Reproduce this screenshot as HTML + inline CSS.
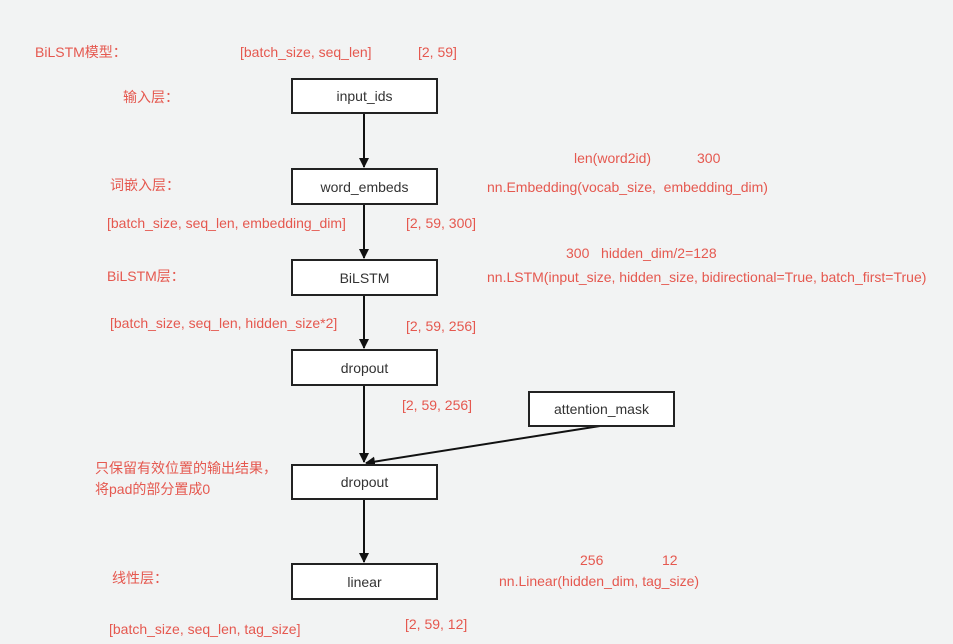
<!DOCTYPE html>
<html><head><meta charset="utf-8"><style>
body{margin:0;width:953px;height:644px;background:#f2f3f3;position:relative;overflow:hidden;font-family:"Liberation Sans","Noto Sans CJK SC",sans-serif}
.b{position:absolute;background:#fff;border:2px solid #222;box-sizing:border-box;display:flex;align-items:center;justify-content:center;font-size:14px;color:#333}
.r{position:absolute;color:#e5584f;font-size:14px;white-space:nowrap;line-height:16px}
svg{position:absolute;left:0;top:0}
</style></head><body>
<svg width="953" height="644">
<defs><marker id="a" markerWidth="10" markerHeight="10" refX="9" refY="5" orient="auto" markerUnits="userSpaceOnUse"><path d="M0,0 L10,5 L0,10 z" fill="#111"/></marker></defs>
<g stroke="#111" stroke-width="2" fill="none">
<line x1="364" y1="113" x2="364" y2="167" marker-end="url(#a)"/>
<line x1="364" y1="204" x2="364" y2="258" marker-end="url(#a)"/>
<line x1="364" y1="295" x2="364" y2="348" marker-end="url(#a)"/>
<line x1="364" y1="385" x2="364" y2="462" marker-end="url(#a)"/>
<line x1="600" y1="426" x2="366" y2="463" marker-end="url(#a)"/>
<line x1="364" y1="499" x2="364" y2="562" marker-end="url(#a)"/>
</g></svg>
<div class="b" style="left:291px;top:78px;width:147px;height:36px">input_ids</div>
<div class="b" style="left:291px;top:168px;width:147px;height:37px">word_embeds</div>
<div class="b" style="left:291px;top:259px;width:147px;height:37px">BiLSTM</div>
<div class="b" style="left:291px;top:349px;width:147px;height:37px">dropout</div>
<div class="b" style="left:291px;top:464px;width:147px;height:36px">dropout</div>
<div class="b" style="left:291px;top:563px;width:147px;height:37px">linear</div>
<div class="b" style="left:528px;top:391px;width:147px;height:36px">attention_mask</div>

<div class="r" style="left:35px;top:44px">BiLSTM模型：</div>
<div class="r" style="left:240px;top:44px">[batch_size, seq_len]</div>
<div class="r" style="left:418px;top:44px">[2, 59]</div>
<div class="r" style="left:123px;top:89px">输入层：</div>
<div class="r" style="left:574px;top:150px">len(word2id)</div>
<div class="r" style="left:697px;top:150px">300</div>
<div class="r" style="left:110px;top:177px">词嵌入层：</div>
<div class="r" style="left:487px;top:179px">nn.Embedding(vocab_size,&nbsp; embedding_dim)</div>
<div class="r" style="left:107px;top:215px">[batch_size, seq_len, embedding_dim]</div>
<div class="r" style="left:406px;top:215px">[2, 59, 300]</div>
<div class="r" style="left:566px;top:245px">300 &nbsp;&nbsp;hidden_dim/2=128</div>
<div class="r" style="left:107px;top:268px">BiLSTM层：</div>
<div class="r" style="left:487px;top:269px">nn.LSTM(input_size, hidden_size, bidirectional=True, batch_first=True)</div>
<div class="r" style="left:110px;top:315px">[batch_size, seq_len, hidden_size*2]</div>
<div class="r" style="left:406px;top:318px">[2, 59, 256]</div>
<div class="r" style="left:402px;top:397px">[2, 59, 256]</div>
<div class="r" style="left:95px;top:460px">只保留有效位置的输出结果，</div>
<div class="r" style="left:95px;top:481px">将pad的部分置成0</div>
<div class="r" style="left:580px;top:552px">256</div>
<div class="r" style="left:662px;top:552px">12</div>
<div class="r" style="left:112px;top:570px">线性层：</div>
<div class="r" style="left:499px;top:573px">nn.Linear(hidden_dim, tag_size)</div>
<div class="r" style="left:109px;top:621px">[batch_size, seq_len, tag_size]</div>
<div class="r" style="left:405px;top:616px">[2, 59, 12]</div>
</body></html>
